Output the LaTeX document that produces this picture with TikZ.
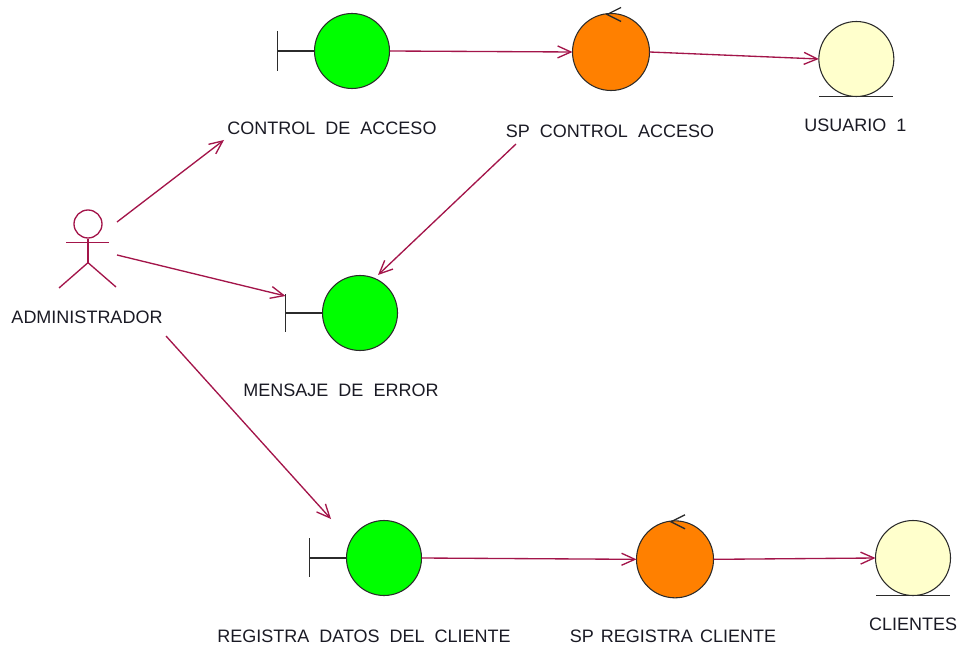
\documentclass[tikz,border=0pt]{standalone}
\usepackage{fontspec}
\setmainfont{Liberation Sans}
\usetikzlibrary{arrows.meta,positioning,calc}
\definecolor{linkred}{HTML}{A3154A}
\definecolor{boundarygreen}{HTML}{00FF00}
\definecolor{controlorange}{HTML}{FF8000}
\definecolor{entityyellow}{HTML}{FFFFCC}
\definecolor{shapegrey}{HTML}{2B2B2B}
\definecolor{captiongrey}{HTML}{1A1A24}

\begin{document}
\begin{tikzpicture}[
    x=0.75pt, y=-0.75pt,
    ball/.style={circle, draw=shapegrey, line width=0.8pt, inner sep=0pt, outer sep=0pt, minimum size=56.25pt},
    boundary/.style={ball, fill=boundarygreen},
    control/.style={ball, fill=controlorange, minimum size=57.75pt},
    entity/.style={ball, fill=entityyellow},
    mark line/.style={draw=shapegrey, line width=1pt},
    caption/.style={inner sep=0pt, text=captiongrey, font=\fontsize{13.5pt}{15pt}\selectfont},
    arrow/.style={-{Straight Barb[length=10pt,width=9pt]}, draw=linkred, line width=1pt},
    stick/.style={draw=linkred, line width=1pt}
]
\useasboundingbox (0,0) rectangle (962,648);

% Access row
\node[boundary] (access) at (352,51) {};
\node[control, right=137.25pt of access, yshift=-0.75pt] (spaccess) {};
\node[entity, right=127pt of spaccess, yshift=-5.25pt] (usuario) {};

% Error message
\node[boundary] (error) at (360,313) {};

% Client row
\node[boundary] (registra) at (384,558) {};
\node[control, right=161.25pt of registra, yshift=-1pt] (spregistra) {};
\node[entity, right=121.5pt of spregistra, yshift=1pt] (clientes) {};

% Actor
\node[circle, draw=linkred, line width=1pt, inner sep=0pt, minimum size=21pt] (head) at (88,224) {};
\draw[stick] (head.south) -- ++(0,24) coordinate (hip);
\draw[stick] ($(head.south)+(-22,4)$) -- ++(43,0);
\draw[stick] (hip) -- (59,288);
\draw[stick] (hip) -- (116,287);
\coordinate (feet) at (87,289);

% Boundary bars
\draw[mark line] (access.west) -- ++(-37,0) coordinate (accessbar) ++(0,-20) -- ++(0,40);
\draw[mark line] (error.west) -- ++(-37,0) coordinate (errorbar) ++(0,-19) -- ++(0,38);
\draw[mark line] (registra.west) -- ++(-37,0) coordinate (registrabar) ++(0,-20) -- ++(0,39);

% Control marks
\draw[mark line] ($(spaccess.north)+(10,-6)$) -- ($(spaccess.north)+(-4,1)$) -- ($(spaccess.north)+(10,8)$);
\draw[mark line] ($(spregistra.north)+(10,-6)$) -- ($(spregistra.north)+(-4,1)$) -- ($(spregistra.north)+(10,8)$);

% Entity lines
\draw[mark line] ($(usuario.south)+(-37,0)$) -- ($(usuario.south)+(37,0)$);
\draw[mark line] ($(clientes.south)+(-37,0)$) -- ($(clientes.south)+(37,0)$);

% Labels
\node[caption, below=24.75pt of access, xshift=-15pt] (accesslabel) {CONTROL\ \ DE\ \ ACCESO};
\node[caption, below=25.5pt of spaccess, xshift=-0.75pt] (spaccesslabel) {SP\ \ CONTROL\ \ ACCESO};
\node[caption, below=16.5pt of usuario, xshift=-0.75pt] (usuariolabel) {USUARIO\ \ 1};
\node[caption, below=16pt of feet] (adminlabel) {ADMINISTRADOR};
\node[caption, below=24.75pt of error, xshift=-14.25pt] (errorlabel) {MENSAJE\ \ DE\ \ ERROR};
\node[caption, below=25.5pt of registra, xshift=-15pt] (registralabel) {REGISTRA\ \ DATOS\ \ DEL\ \ CLIENTE};
\node[caption, below=24pt of spregistra, xshift=-1.5pt] (spregistralabel) {SP\hspace{1.5pt} REGISTRA\hspace{1.5pt} CLIENTE};
\node[caption, below=16.5pt of clientes] (clienteslabel) {CLIENTES};

% Free ends
\coordinate (adminup) at (117,222);
\coordinate (adminmid) at (117,255);
\coordinate (admindown) at (166,336);
\coordinate (accessend) at (224,140);
\coordinate (spstart) at (516,144);
\coordinate (errorend) at (378,275);
\coordinate (registraend) at (331,519);

% Arrows
\draw[arrow] (adminup) -- (accessend);
\draw[arrow] (adminmid) -- ($(errorbar)+(0,-17)$);
\draw[arrow] (admindown) -- (registraend);
\draw[arrow] (spstart) -- (errorend);
\draw[arrow] (access.east) -- (spaccess.west);
\draw[arrow] (spaccess.east) -- (usuario.west);
\draw[arrow] (registra.east) -- (spregistra.west);
\draw[arrow] (spregistra.east) -- (clientes.west);

\end{tikzpicture}
\end{document}
